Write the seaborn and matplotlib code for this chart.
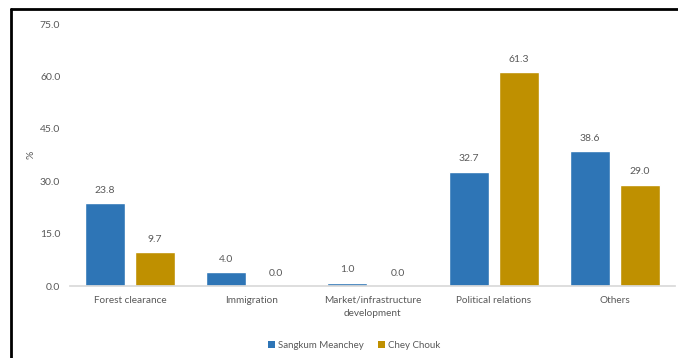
import matplotlib
matplotlib.use("Agg")
import matplotlib.pyplot as plt
import seaborn as sns
import pandas as pd
from matplotlib.lines import Line2D
from matplotlib.patches import Patch

categories = ["Forest clearance", "Immigration", "Market/infrastructure\ndevelopment",
              "Political relations", "Others"]
series_names = ["Sangkum Meanchey", "Chey Chouk"]
sangkum = [23.8, 4.0, 1.0, 32.7, 38.6]
chey = [9.7, 0.0, 0.0, 61.3, 29.0]
yticks = [0.0, 15.0, 30.0, 45.0, 60.0, 75.0]

df = pd.DataFrame({
    "category": categories * 2,
    "series": [series_names[0]] * 5 + [series_names[1]] * 5,
    "value": sangkum + chey,
})

sns.set_theme(style="white")
plt.rcParams["font.family"] = ["Lato", "DejaVu Sans"]
gray = "#595959"
colors = ["#2E75B6", "#BF9000"]

W, H = 678, 358
fig = plt.figure(figsize=(W / 100, H / 100), dpi=100)
ax = fig.add_axes([70 / W, (H - 286) / H, (675 - 70) / W, (286 - 24) / H])

sns.barplot(data=df, x="category", y="value", hue="series", palette=colors,
            order=categories, hue_order=series_names, ax=ax, width=0.825,
            gap=0.2, legend=False, saturation=1)

for cont in ax.containers:
    ax.bar_label(cont, fmt="%.1f", padding=6, fontsize=7.5, color=gray)

ax.set_ylim(0, 75)
ax.set_yticks(yticks)
ax.set_yticklabels([f"{v:.1f}" for v in yticks], fontsize=7.5, color=gray)
ax.tick_params(axis="x", labelsize=7.2, labelcolor=gray, length=0, pad=7)
ax.tick_params(axis="y", length=0, pad=7)
for lbl in ax.get_xticklabels():
    lbl.set_linespacing(1.6)
ax.set_xlabel("")
ax.set_ylabel("%", fontsize=7.5, color=gray, labelpad=3)
for s in ["top", "right", "left"]:
    ax.spines[s].set_visible(False)
ax.spines["bottom"].set_color("#D9D9D9")
ax.set_xlim(-0.495, 4.495)

handles = [Patch(facecolor=c, edgecolor="none") for c in colors]
fig.legend(handles, series_names, loc="center", bbox_to_anchor=(354 / W, 1 - 345 / H),
           ncol=2, frameon=False, fontsize=7, handlelength=0.7, handleheight=0.7,
           handletextpad=0.3, columnspacing=1.5, labelcolor=gray)

# border lines (left and top)
fig.add_artist(Line2D([11 / W, 11 / W], [0, 1 - 8.5 / H], transform=fig.transFigure,
                      color="black", lw=2))
fig.add_artist(Line2D([11 / W, 1], [1 - 8.5 / H, 1 - 8.5 / H], transform=fig.transFigure,
                      color="black", lw=2))

fig.savefig("out.png", dpi=100)
